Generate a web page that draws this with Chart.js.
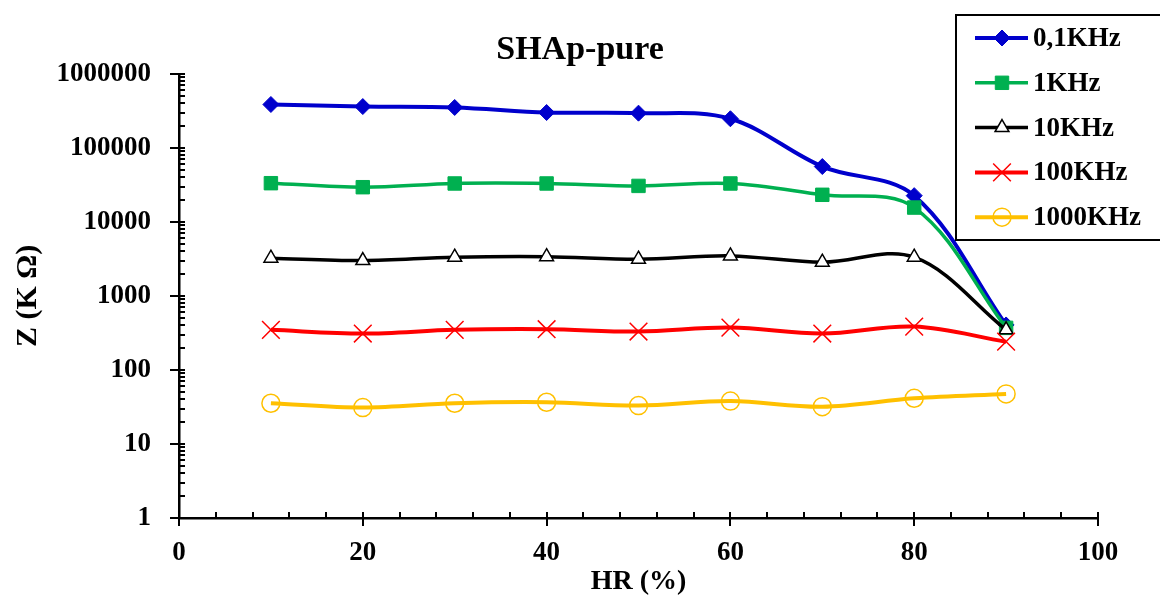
<!DOCTYPE html>
<html>
<head>
<meta charset="utf-8">
<script src="https://cdn.jsdelivr.net/npm/chart.js"></script>
<style>
  body { margin: 0; background: #fff; }
</style>
</head>
<body>
<canvas id="zChart" width="1160" height="599"></canvas>
<script>
// HR (%) values
var hr = [10, 20, 30, 40, 50, 60, 70, 80, 90];

// Z (K Ohm) per frequency
var z01 = [385000, 361000, 351000, 300000, 294000, 247000, 55900, 22600, 405];
var z1 = [33300, 29400, 33000, 33000, 30600, 33000, 23200, 15600, 370];
var z10 = [3230, 3000, 3330, 3390, 3130, 3470, 2850, 3330, 348];
var z100 = [348, 310, 348, 355, 330, 373, 310, 385, 241];
var z1000 = [35.5, 31, 35.5, 36.6, 33, 38, 31.9, 41.4, 47.4];

// Axis ticks
var xTicks = [0, 20, 40, 60, 80, 100];
var yTicks = [1, 10, 100, 1000, 10000, 100000, 1000000];

function pts(vals) {
    return hr.map(function (h, i) { return {x: h, y: vals[i]}; });
}

Chart.defaults.font.family = '"Liberation Serif", "Times New Roman", serif';
Chart.defaults.color = '#000';

// tick marks like the original (minor ticks inside, major crossing)
var tickMarks = {
    id: 'tickMarks',
    afterDraw: function (chart) {
        var ctx = chart.ctx, a = chart.chartArea;
        var x = chart.scales.x, y = chart.scales.y;
        ctx.save();
        ctx.strokeStyle = '#000';
        ctx.lineWidth = 2;
        ctx.beginPath();
        for (var v = 0; v <= 100; v += 4) {
            var px = Math.round(x.getPixelForValue(v));
            var major = v % 20 === 0;
            ctx.moveTo(px, a.bottom - 6);
            ctx.lineTo(px, a.bottom + (major ? 8 : 0));
        }
        for (var d = 1; d <= 1000000; d *= 10) {
            for (var m = 1; m < 10; m++) {
                if (d * m > 1000000) break;
                var py = Math.round(y.getPixelForValue(d * m));
                ctx.moveTo(a.left - (m === 1 ? 9 : 0), py);
                ctx.lineTo(a.left + 6, py);
            }
        }
        ctx.stroke();
        ctx.restore();
    }
};

// boxed legend sitting over the top right corner
var boxLegend = {
    id: 'boxLegend',
    afterDraw: function (chart) {
        var ctx = chart.ctx;
        ctx.save();
        ctx.fillStyle = '#fff';
        ctx.fillRect(956, 15, 210, 225);
        ctx.strokeStyle = '#000';
        ctx.lineWidth = 2;
        ctx.strokeRect(956, 15, 210, 225);
        chart.data.datasets.forEach(function (ds, i) {
            var cy = 38 + i * 44.8;
            ctx.strokeStyle = ds.borderColor;
            ctx.lineWidth = ds.borderWidth;
            ctx.beginPath();
            ctx.moveTo(975, cy);
            ctx.lineTo(1028, cy);
            ctx.stroke();
            ctx.fillStyle = ds.pointBackgroundColor;
            ctx.strokeStyle = ds.pointBorderColor;
            ctx.lineWidth = ds.pointBorderWidth;
            Chart.helpers.drawPoint(ctx, {
                pointStyle: ds.pointStyle,
                radius: ds.pointRadius,
                rotation: 0,
                borderWidth: ds.pointBorderWidth
            }, 1002, cy);
            ctx.fillStyle = '#000';
            ctx.font = 'bold 27px "Liberation Serif", "Times New Roman", serif';
            ctx.textBaseline = 'middle';
            ctx.fillText(ds.label, 1033, cy + 1);
        });
        ctx.restore();
    }
};

var ctx = document.getElementById('zChart');

var zChart = new Chart(ctx, {
    type: 'line',
    data: {
        datasets: [
            {
                label: '0,1KHz',
                data: pts(z01),
                borderColor: '#0000CC',
                borderWidth: 4,
                pointStyle: 'rectRot',
                pointRadius: 8,
                pointBackgroundColor: '#0000CC',
                pointBorderColor: '#0000CC',
                pointBorderWidth: 1,
                order: 5
            },
            {
                label: '1KHz',
                data: pts(z1),
                borderColor: '#00B050',
                borderWidth: 3.5,
                pointStyle: 'rect',
                pointRadius: 9.5,
                pointBackgroundColor: '#00B050',
                pointBorderColor: '#00B050',
                pointBorderWidth: 1,
                order: 4
            },
            {
                label: '10KHz',
                data: pts(z10),
                borderColor: '#000000',
                borderWidth: 3.5,
                pointStyle: 'triangle',
                pointRadius: 8,
                pointBackgroundColor: '#ffffff',
                pointBorderColor: '#000000',
                pointBorderWidth: 1.5,
                order: 3
            },
            {
                label: '100KHz',
                data: pts(z100),
                borderColor: '#FF0000',
                borderWidth: 4,
                pointStyle: 'crossRot',
                pointRadius: 12.5,
                pointBackgroundColor: '#FF0000',
                pointBorderColor: '#FF0000',
                pointBorderWidth: 1.5,
                order: 2
            },
            {
                label: '1000KHz',
                data: pts(z1000),
                borderColor: '#FFC000',
                borderWidth: 4,
                pointStyle: 'circle',
                pointRadius: 9,
                pointBackgroundColor: 'rgba(0,0,0,0)',
                pointBorderColor: '#FFC000',
                pointBorderWidth: 1.5,
                order: 1
            }
        ]
    },
    options: {
        responsive: false,
        animation: false,
        tension: 0.35,
        layout: { padding: { left: 0, right: 0, top: 0, bottom: 0 } },
        plugins: {
            legend: { display: false },
            tooltip: { enabled: false },
            title: {
                display: true,
                text: 'SHAp-pure',
                color: '#000',
                font: { size: 34, weight: 'bold' },
                padding: { top: 30, bottom: 3 }
            }
        },
        scales: {
            x: {
                type: 'linear',
                min: 0,
                max: 100,
                afterBuildTicks: function (scale) {
                    scale.ticks = xTicks.map(function (v) { return {value: v}; });
                },
                afterFit: function (scale) { scale.height = 81; },
                grid: { display: false, drawTicks: false },
                border: { display: true, color: '#000', width: 2.5 },
                ticks: {
                    padding: 19,
                    maxRotation: 0,
                    font: { size: 27, weight: 'bold' }
                },
                title: {
                    display: true,
                    text: 'HR (%)',
                    font: { size: 28, weight: 'bold' },
                    padding: { top: 0, bottom: 0 }
                }
            },
            y: {
                type: 'logarithmic',
                min: 1,
                max: 1000000,
                afterBuildTicks: function (scale) {
                    scale.ticks = yTicks.map(function (v) { return {value: v}; });
                },
                afterFit: function (scale) { scale.width = 179; },
                grid: { display: false, drawTicks: false },
                border: { display: true, color: '#000', width: 2.5 },
                ticks: {
                    padding: 28,
                    autoSkip: false,
                    font: { size: 27, weight: 'bold' },
                    callback: function (v) { return String(v); }
                },
                title: {
                    display: true,
                    text: 'Z (K Ω)',
                    font: { size: 30, weight: 'bold' },
                    padding: { top: 10, bottom: 0 }
                }
            },
            // empty right axis, only reserves the space on the right
            yRight: {
                type: 'linear',
                position: 'right',
                display: true,
                afterFit: function (scale) { scale.width = 62; },
                grid: { display: false, drawTicks: false },
                border: { display: false },
                ticks: { display: false }
            }
        }
    },
    plugins: [tickMarks, boxLegend]
});
</script>
</body>
</html>
